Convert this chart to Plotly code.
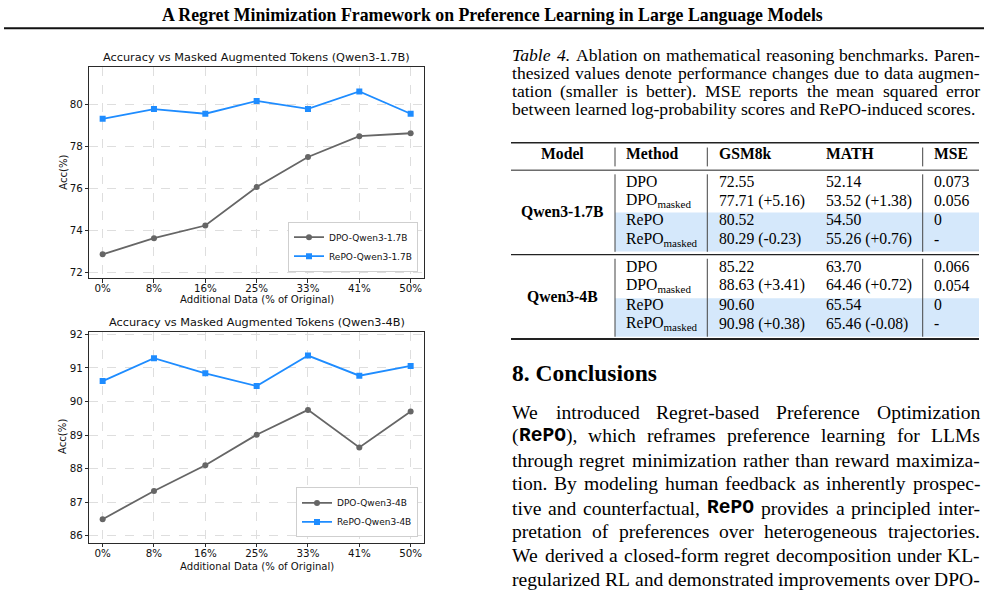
import re
import plotly.graph_objects as go

W, H = 988, 593

# ---------------- data ----------------
x_labels = ["0%", "8%", "16%", "25%", "33%", "41%", "50%"]
dpo_17b = [72.85, 73.62, 74.22, 76.05, 77.48, 78.47, 78.61]
repo_17b = [79.30, 79.76, 79.54, 80.15, 79.77, 80.60, 79.54]
dpo_4b = [86.49, 87.33, 88.10, 89.01, 89.75, 88.63, 89.70]
repo_4b = [90.61, 91.29, 90.84, 90.46, 91.37, 90.77, 91.06]

chart_titles = ["Accuracy vs Masked Augmented Tokens (Qwen3-1.7B)",
                "Accuracy vs Masked Augmented Tokens (Qwen3-4B)"]
series_names_17b = ["DPO-Qwen3-1.7B", "RePO-Qwen3-1.7B"]
series_names_4b = ["DPO-Qwen3-4B", "RePO-Qwen3-4B"]
x_title = "Additional Data (% of Original)"
y_title = "Acc(%)"

table_header = ["Model", "Method", "GSM8k", "MATH", "MSE"]
table_models = ["Qwen3-1.7B", "Qwen3-4B"]
table_methods = ["DPO", "DPO<sub>masked</sub>", "RePO", "RePO<sub>masked</sub>"]
table_gsm8k = [["72.55", "77.71 (+5.16)", "80.52", "80.29 (-0.23)"],
               ["85.22", "88.63 (+3.41)", "90.60", "90.98 (+0.38)"]]
table_math = [["52.14", "53.52 (+1.38)", "54.50", "55.26 (+0.76)"],
              ["63.70", "64.46 (+0.72)", "65.54", "65.46 (-0.08)"]]
table_mse = [["0.073", "0.056", "0", "-"],
             ["0.066", "0.054", "0", "-"]]

page_title = "A Regret Minimization Framework on Preference Learning in Large Language Models"
caption_lines = [
    "{i:Table} {i:4.} Ablation on mathematical reasoning benchmarks. Paren-",
    "thesized values denote performance changes due to data augmen-",
    "tation (smaller is better). MSE reports the mean squared error",
    "between learned log-probability scores and RePO-induced scores.",
]
section_title = "8. Conclusions"
paragraph_lines = [
    "We introduced Regret-based Preference Optimization",
    "({m:RePO}), which reframes preference learning for LLMs",
    "through regret minimization rather than reward maximiza-",
    "tion. By modeling human feedback as inherently prospec-",
    "tive and counterfactual, {m:RePO} provides a principled inter-",
    "pretation of preferences over heterogeneous trajectories.",
    "We derived a closed-form regret decomposition under KL-",
    "regularized RL and demonstrated improvements over DPO-",
]

# ---------------- styling ----------------
SERIF = "Liberation Serif"
MONO = "Liberation Mono"
SANS = "DejaVu Sans"
GRAY = "#666666"
BLUE = "#1E8CFF"
SHADE = "#d5e8fb"
SERIF_DY = -1.8   # visual centring correction for serif text
SANS_DY = -0.8

TIMES = {' ': 250, '!': 333, '"': 408, '#': 500, '$': 500, '%': 833, '&': 778, "'": 180,
         '(': 333, ')': 333, '*': 500, '+': 564, ',': 250, '-': 333, '.': 250, '/': 278,
         ':': 278, ';': 278, '<': 564, '=': 564, '>': 564, '?': 444, '@': 921,
         'A': 722, 'B': 667, 'C': 667, 'D': 722, 'E': 611, 'F': 556, 'G': 722, 'H': 722,
         'I': 333, 'J': 389, 'K': 722, 'L': 611, 'M': 889, 'N': 722, 'O': 722, 'P': 556,
         'Q': 722, 'R': 667, 'S': 556, 'T': 611, 'U': 722, 'V': 722, 'W': 944, 'X': 722,
         'Y': 722, 'Z': 611, 'a': 444, 'b': 500, 'c': 444, 'd': 500, 'e': 444, 'f': 333,
         'g': 500, 'h': 500, 'i': 278, 'j': 278, 'k': 500, 'l': 278, 'm': 778, 'n': 500,
         'o': 500, 'p': 500, 'q': 500, 'r': 333, 's': 389, 't': 278, 'u': 500, 'v': 500,
         'w': 722, 'x': 500, 'y': 500, 'z': 444}
for d in "0123456789":
    TIMES[d] = 500
TIMES_I = dict(TIMES)
TIMES_I.update({'T': 556, 'a': 500, 'b': 500, 'l': 278, 'e': 444, '4': 500, '.': 250})


def px(x):
    return x / W


def py(y):
    return 1 - y / H


annotations = []
shapes = []


def ann(text, x, y, size, family=SERIF, xanchor="left", color="black", **kw):
    dy = SANS_DY if family == SANS else SERIF_DY
    annotations.append(dict(text=text, x=px(x), y=py(y + dy), xref="paper", yref="paper",
                            xanchor=xanchor, yanchor="middle", showarrow=False,
                            borderpad=0, font=dict(family=family, size=size, color=color), **kw))


def seg_width(text, style, size):
    if style == "m":
        return 0.6 * size * len(text)
    tbl = TIMES_I if style == "i" else TIMES
    return sum(tbl.get(ch, 500) for ch in text) / 1000.0 * size


def parse_word(word):
    segs = []
    for m in re.finditer(r"\{(\w):([^}]*)\}|([^{]+)", word):
        if m.group(3) is not None:
            segs.append(("r", m.group(3)))
        else:
            segs.append((m.group(1), m.group(2)))
    return segs


def justified_line(line, y, x0, x1, size, justify=True):
    words = [parse_word(w) for w in line.split(" ")]
    widths = [sum(seg_width(t, s, size) for s, t in w) for w in words]
    if justify and len(words) > 1:
        gap = (x1 - x0 - sum(widths)) / (len(words) - 1)
    else:
        gap = 0.25 * size
    x = x0
    for w, wd in zip(words, widths):
        xx = x
        for s, t in w:
            if s == "m":
                ann("<b>%s</b>" % t, xx, y, size, family=MONO)
            elif s == "i":
                ann("<i>%s</i>" % t, xx, y, size)
            else:
                ann(t, xx, y, size)
            xx += seg_width(t, s, size)
        x += wd + gap


def hline(x0, x1, y, width=1, color="#222"):
    shapes.append(dict(type="line", xref="paper", yref="paper", x0=px(x0), x1=px(x1),
                       y0=py(y), y1=py(y), line=dict(color=color, width=width)))


def vline(x, y0, y1, width=1, color="#444"):
    shapes.append(dict(type="line", xref="paper", yref="paper", x0=px(x), x1=px(x),
                       y0=py(y0), y1=py(y1), line=dict(color=color, width=width)))


def rect(x0, x1, y0, y1, color):
    shapes.append(dict(type="rect", xref="paper", yref="paper", x0=px(x0), x1=px(x1),
                       y0=py(y1), y1=py(y0), fillcolor=color, line=dict(width=0), layer="below"))


# ---------------- figure ----------------
fig = go.Figure()

fig.add_trace(go.Scatter(x=x_labels, y=dpo_17b, name=series_names_17b[0], mode="lines+markers",
                         line=dict(color=GRAY, width=1.8), marker=dict(symbol="circle", size=6, color=GRAY),
                         xaxis="x", yaxis="y", legend="legend"))
fig.add_trace(go.Scatter(x=x_labels, y=repo_17b, name=series_names_17b[1], mode="lines+markers",
                         line=dict(color=BLUE, width=1.8), marker=dict(symbol="square", size=6, color=BLUE),
                         xaxis="x", yaxis="y", legend="legend"))
fig.add_trace(go.Scatter(x=x_labels, y=dpo_4b, name=series_names_4b[0], mode="lines+markers",
                         line=dict(color=GRAY, width=1.8), marker=dict(symbol="circle", size=6, color=GRAY),
                         xaxis="x2", yaxis="y2", legend="legend2"))
fig.add_trace(go.Scatter(x=x_labels, y=repo_4b, name=series_names_4b[1], mode="lines+markers",
                         line=dict(color=BLUE, width=1.8), marker=dict(symbol="square", size=6, color=BLUE),
                         xaxis="x2", yaxis="y2", legend="legend2"))

axis_common = dict(showline=True, mirror=True, linecolor="#2a2a2a", linewidth=1,
                   ticks="outside", ticklen=3.5, tickwidth=1, tickcolor="#2a2a2a",
                   showgrid=True, gridcolor="#dedede", griddash="dash", gridwidth=0.8,
                   zeroline=False, tickfont=dict(family=SANS, size=10.3, color="#111"))

plot_x0, plot_x1 = 89.3, 424
c1_top, c1_bot = 63.3, 276
c2_top, c2_bot = 330, 542.3

legend_common = dict(xanchor="right", yanchor="bottom", bgcolor="white",
                     bordercolor="#cfcfcf", borderwidth=1,
                     font=dict(family=SANS, size=9, color="#111"),
                     tracegroupgap=0, itemwidth=30)

layout = dict(
    width=W, height=H, autosize=False,
    margin=dict(l=0, r=0, t=0, b=0),
    paper_bgcolor="white", plot_bgcolor="white",
    xaxis=dict(domain=[px(plot_x0), px(plot_x1)], anchor="y", type="category",
               range=[-0.26, 6.26], ticklabelstandoff=-3, **axis_common),
    yaxis=dict(domain=[py(c1_bot), py(c1_top)], anchor="x", range=[71.716, 81.77],
               tick0=72, dtick=2, **axis_common),
    xaxis2=dict(domain=[px(plot_x0), px(plot_x1)], anchor="y2", type="category",
                range=[-0.26, 6.26], ticklabelstandoff=-3, **axis_common),
    yaxis2=dict(domain=[py(c2_bot), py(c2_top)], anchor="x2", range=[85.79, 92.08],
                tick0=86, dtick=1, **axis_common),
    legend=dict(x=px(418), y=py(269.5), **legend_common),
    legend2=dict(x=px(418), y=py(537), **legend_common),
    showlegend=True,
)

# chart titles and axis titles
cx = (plot_x0 + plot_x1) / 2
ann(chart_titles[0], cx, 55, 11.3, family=SANS, xanchor="center", color="#111")
ann(chart_titles[1], cx, 321.7, 11.3, family=SANS, xanchor="center", color="#111")
ann(x_title, cx, 298.8, 10.1, family=SANS, xanchor="center", color="#111")
ann(x_title, cx, 567, 10.1, family=SANS, xanchor="center", color="#111")
ann(y_title, 62.7, 170, 10.1, family=SANS, xanchor="center", color="#111", textangle=-90)
ann(y_title, 62.7, 436, 10.1, family=SANS, xanchor="center", color="#111", textangle=-90)

# page header
ann("<b>%s</b>" % page_title, 492, 13, 17.8, xanchor="center")
hline(4, 984, 24.5, width=2, color="#111")

# caption
cap_y = [52.7, 70.9, 89.6, 108]
for i, (line, y) in enumerate(zip(caption_lines, cap_y)):
    justified_line(line, y, 511, 979, 17.6, justify=(i < len(caption_lines) - 1))

# table
TX0, TX1 = 511, 979
TS = 15.7
col_method, col_gsm, col_math, col_mse = 625, 718.3, 825, 932.7
sep1, sep2, sep3 = 615, 707.3, 922.7
rect(sep1, TX1, 210, 249.3, SHADE)
rect(sep1, TX1, 296.3, 335, SHADE)
hline(TX0, TX1, 139.7, width=1.6)
hline(TX0, TX1, 167.3, width=1)
hline(TX0, TX1, 252.3, width=1.4)
hline(TX0, TX1, 337.2, width=2)
for xs in (sep1, sep2, sep3):
    vline(xs, 144.5, 163.5)
    vline(xs, 171.5, 249.5)
    vline(xs, 256.5, 335)

ann("<b>%s</b>" % table_header[0], 562.5, 152.7, TS, xanchor="center")
for txt, xx in zip(table_header[1:], [col_method, col_gsm, col_math, col_mse]):
    ann("<b>%s</b>" % txt, xx, 152.7, TS)

group_rows = [[181, 200, 219.2, 238.8], [265.7, 285, 304.3, 323.8]]
group_model_y = [210.7, 296]
for g in range(2):
    ann("<b>%s</b>" % table_models[g], 562.5, group_model_y[g], TS, xanchor="center")
    for r in range(4):
        y = group_rows[g][r]
        ann(table_methods[r], col_method, y, TS)
        ann(table_gsm8k[g][r], col_gsm, y, TS)
        ann(table_math[g][r], col_math, y, TS)
        ann(table_mse[g][r], col_mse, y, TS)

# section and paragraph
ann("<b>%s</b>" % section_title, 511, 373, 23.5)
par_y = [412.7, 436.7, 461, 485, 509.3, 533.3, 557.3, 581]
for line, y in zip(paragraph_lines, par_y):
    justified_line(line, y, 511, 979, 19.6, justify=True)

layout["annotations"] = annotations
layout["shapes"] = shapes
fig.update_layout(**layout)
fig.write_html("out.html")
